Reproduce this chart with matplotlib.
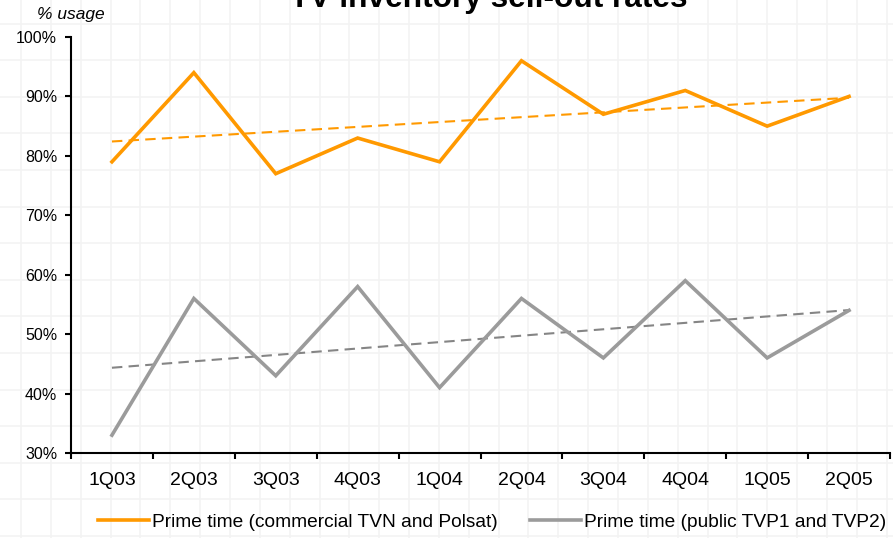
import numpy as np
import matplotlib
matplotlib.use("Agg")
import matplotlib.pyplot as plt
from matplotlib.lines import Line2D

plt.rcParams["font.family"] = ["Liberation Sans", "DejaVu Sans"]

# Quarterly sell-out rates (% of inventory used)
quarters = ["1Q03", "2Q03", "3Q03", "4Q03", "1Q04", "2Q04", "3Q04", "4Q04", "1Q05", "2Q05"]
commercial = [79, 94, 77, 83, 79, 96, 87, 91, 85, 90]
public = [33, 56, 43, 58, 41, 56, 46, 59, 46, 54]

label_commercial = "Prime time (commercial TVN and Polsat)"
label_public = "Prime time (public TVP1 and TVP2)"

ORANGE = "#FF9900"
GREY = "#9B9B9B"
GREY_TREND = "#858585"

W, H = 893, 538
fig = plt.figure(figsize=(W / 100, H / 100), dpi=100)
fig.patch.set_facecolor("white")

# faint graph-paper backdrop
for gx in np.arange(21, W, 29.85):
    fig.add_artist(Line2D([gx / W, gx / W], [0, 1], transform=fig.transFigure,
                          color="#f3f3f3", lw=1.1, zorder=0))
for gy in np.arange(23.5, H, 36.6):
    fig.add_artist(Line2D([0, 1], [1 - gy / H, 1 - gy / H], transform=fig.transFigure,
                          color="#f3f3f3", lw=1.1, zorder=0))

ax = fig.add_axes([71 / W, 1 - 453 / H, (890 - 71) / W, (453 - 37) / H])
ax.set_facecolor("none")

x = np.arange(len(quarters))

# linear trends of each series
tc = np.polyval(np.polyfit(x, commercial, 1), x[[0, -1]])
tp = np.polyval(np.polyfit(x, public, 1), x[[0, -1]])

ax.plot(x[[0, -1]], tc, color=ORANGE, lw=1.5, dashes=(5, 3), zorder=2)
ax.plot(x[[0, -1]], tp, color=GREY_TREND, lw=1.5, dashes=(5, 3), zorder=2)
ax.plot(x, commercial, color=ORANGE, lw=2.6, solid_joinstyle="miter", zorder=3,
        label=label_commercial)
ax.plot(x, public, color=GREY, lw=2.6, solid_joinstyle="miter", zorder=3,
        label=label_public)

ax.set_xlim(-0.5, len(quarters) - 0.5)
ax.set_ylim(30, 100)

# y axis
ax.set_yticks(np.arange(30, 101, 10))
ax.set_yticklabels([f"{v}%" for v in range(30, 101, 10)])
ax.tick_params(axis="y", direction="out", length=4, width=1.5, pad=6, labelsize=11.5)

# x axis: tick marks between categories, labels centred on categories
ax.set_xticks(np.arange(-0.5, len(quarters), 1.0))
ax.set_xticklabels([])
ax.set_xticks(x, minor=True)
ax.set_xticklabels(quarters, minor=True)
ax.tick_params(axis="x", which="major", direction="out", length=4.5, width=1.5)
ax.tick_params(axis="x", which="minor", length=0, pad=14, labelsize=14)

for side in ("top", "right"):
    ax.spines[side].set_visible(False)
for side in ("left", "bottom"):
    ax.spines[side].set_linewidth(1.5)
    ax.spines[side].set_color("black")

fig.text(489 / W, 1 - 7 / H, "TV inventory sell-out rates", ha="center", va="baseline",
         fontsize=22.8, fontweight="bold")
fig.text(37 / W, 1 - 15 / H, "% usage", ha="left", va="center", fontsize=12.5,
         fontstyle="italic")

fig.legend(loc="center left", bbox_to_anchor=(98 / W, 1 - 522 / H), ncol=2, frameon=False,
           fontsize=13.8, handlelength=2.65, handletextpad=0.15, columnspacing=1.7,
           borderaxespad=0, borderpad=0)

fig.savefig("out.png", dpi=100)
